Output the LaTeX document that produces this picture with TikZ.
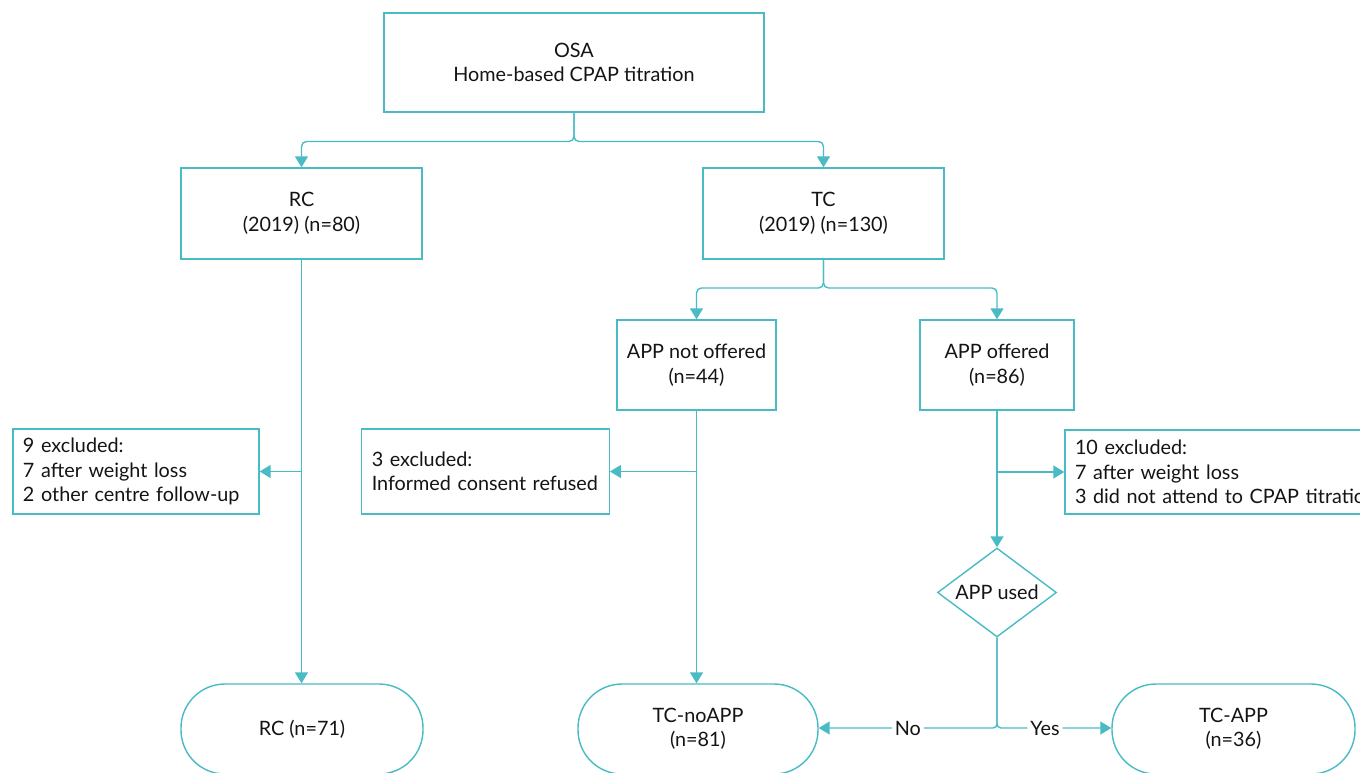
\documentclass[tikz,border=0pt]{standalone}
\usepackage{fontspec}
\setmainfont{Lato}
\usetikzlibrary{arrows.meta,shapes.geometric}
\definecolor{teal1}{RGB}{72,187,197}
\definecolor{txt}{RGB}{20,20,20}
\tikzset{
  box/.style={draw=teal1,line width=1.4pt,rectangle,inner sep=0pt,align=center,text=txt,
    font=\fontsize{19.8}{24.5}\selectfont},
  lbox/.style={box,align=left,inner xsep=10pt},
  term/.style={box,rounded corners=44pt},
  conn/.style={draw=teal1,line width=1.4pt},
  arr/.style={conn,-{Triangle[length=11pt,width=13pt]}},
  lab/.style={fill=white,text=txt,inner sep=3pt,font=\fontsize{19.8}{23}\selectfont}
}
\begin{document}
\begin{tikzpicture}[x=1pt,y=-1pt]
\useasboundingbox (0,0) rectangle (1360,772);
\clip (0,0) rectangle (1360,772);
\node[box,minimum width=380pt,minimum height=99pt] (osa) at (574,62.5) {OSA\\Home-based CPAP titration};
\node[box,minimum width=241pt,minimum height=91pt] (rc) at (301.5,213.5) {RC\\(2019) (n=80)};
\node[box,minimum width=241pt,minimum height=91pt] (tc) at (823.5,213.5) {TC\\(2019) (n=130)};
\node[box,minimum width=159pt,minimum height=90pt] (apn) at (696.5,365) {APP not offered\\(n=44)};
\node[box,minimum width=154pt,minimum height=90pt] (apo) at (997,365) {APP offered\\(n=86)};
\node[lbox,text width=226pt,minimum height=85pt] (ex1) at (136,471.5) {9 excluded:\\7 after weight loss\\2 other centre follow-up};
\node[lbox,text width=227.5pt,minimum height=85pt] (ex2) at (485.5,471.5) {3 excluded:\\Informed consent refused};
\node[lbox,text width=310pt,minimum height=84pt] (ex3) at (1230,472) {10 excluded:\\7 after weight loss\\3 did not attend to CPAP titration};
\node[box,shape=diamond,aspect=1.34,minimum width=119pt,minimum height=89pt] (dia) at (997,592.5) {APP used};
\node[term,minimum width=242pt,minimum height=90pt] (t1) at (302,729) {RC (n=71)};
\node[term,minimum width=240pt,minimum height=90pt] (t2) at (698,729) {TC-noAPP\\(n=81)};
\node[term,minimum width=243pt,minimum height=90pt] (t3) at (1233.5,729) {TC-APP\\(n=36)};
\coordinate (j1) at (574,141.5);
\coordinate (j2) at (823.5,288);
\coordinate (j3) at (997,728);
% top split
\draw[arr,rounded corners=5pt] (osa.south) -- (j1) -| (rc.north);
\draw[arr,rounded corners=5pt] (osa.south) -- (j1) -| (tc.north);
% TC split
\draw[arr,rounded corners=5pt] (tc.south) -- (j2) -| (apn.north);
\draw[arr,rounded corners=5pt] (tc.south) -- (j2) -| (apo.north);
% RC line
\draw[arr] (rc.south) -- (rc.south |- t1.north);
\draw[arr] (rc.south |- ex1.east) -- (ex1.east);
% APP not offered
\draw[arr] (apn.south) -- (apn.south |- t2.north);
\draw[arr] (apn.south |- ex2.east) -- (ex2.east);
% APP offered
\draw[arr] (apo.south) -- (dia.north);
\draw[arr] (apo.south |- ex3.west) -- (ex3.west);
% decision
\draw[arr,rounded corners=4pt] (dia.south) -- (j3) -- (t2.east |- j3) node[lab,pos=0.5] {No};
\draw[arr,rounded corners=4pt] (dia.south) -- (j3) -- (t3.west |- j3) node[lab,pos=0.42] {Yes};
\end{tikzpicture}
\end{document}
